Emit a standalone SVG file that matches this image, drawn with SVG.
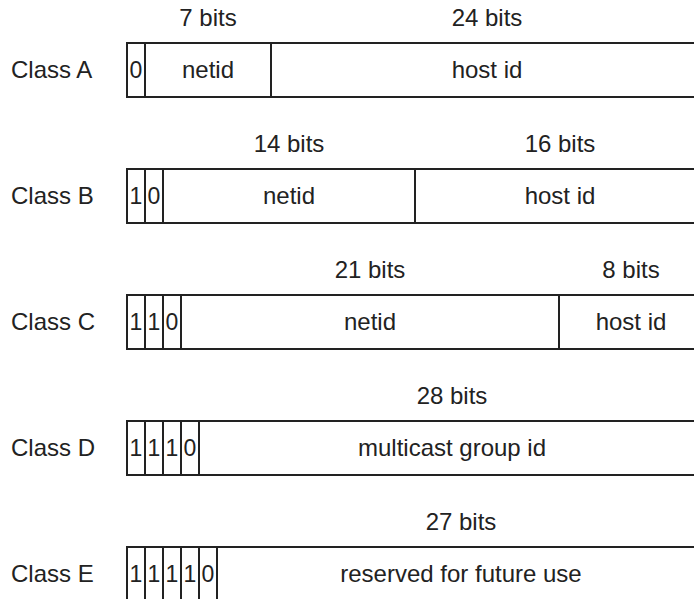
<svg xmlns="http://www.w3.org/2000/svg" width="694" height="599" viewBox="0 0 694 599">
<style>
text{font-family:"Liberation Sans",Arial,sans-serif;font-size:24px;fill:#222}
.m{text-anchor:middle}
.d{font-size:23px}
line{stroke:#222;stroke-width:2}
</style>
<rect width="694" height="599" fill="#fff"/>
<g id="classA">
<text x="11" y="78">Class A</text>
<text class="m" x="208" y="26">7 bits</text>
<text class="m" x="487" y="26">24 bits</text>
<line x1="127" y1="43" x2="694" y2="43"/>
<line x1="127" y1="97" x2="694" y2="97"/>
<line x1="127" y1="42" x2="127" y2="98"/>
<line x1="145" y1="43" x2="145" y2="97"/>
<line x1="271" y1="43" x2="271" y2="97"/>
<text class="m d" x="136" y="78">0</text>
<text class="m" x="208" y="78">netid</text>
<text class="m" x="487" y="78">host id</text>
</g>
<g id="classB">
<text x="11" y="204">Class B</text>
<text class="m" x="289" y="152">14 bits</text>
<text class="m" x="560" y="152">16 bits</text>
<line x1="127" y1="169" x2="694" y2="169"/>
<line x1="127" y1="223" x2="694" y2="223"/>
<line x1="127" y1="168" x2="127" y2="224"/>
<line x1="145" y1="169" x2="145" y2="223"/>
<line x1="163" y1="169" x2="163" y2="223"/>
<line x1="415" y1="169" x2="415" y2="223"/>
<text class="m d" x="136" y="204">1</text>
<text class="m d" x="154" y="204">0</text>
<text class="m" x="289" y="204">netid</text>
<text class="m" x="560" y="204">host id</text>
</g>
<g id="classC">
<text x="11" y="330">Class C</text>
<text class="m" x="370" y="278">21 bits</text>
<text class="m" x="631" y="278">8 bits</text>
<line x1="127" y1="295" x2="694" y2="295"/>
<line x1="127" y1="349" x2="694" y2="349"/>
<line x1="127" y1="294" x2="127" y2="350"/>
<line x1="145" y1="295" x2="145" y2="349"/>
<line x1="163" y1="295" x2="163" y2="349"/>
<line x1="181" y1="295" x2="181" y2="349"/>
<line x1="559" y1="295" x2="559" y2="349"/>
<text class="m d" x="136" y="330">1</text>
<text class="m d" x="154" y="330">1</text>
<text class="m d" x="172" y="330">0</text>
<text class="m" x="370" y="330">netid</text>
<text class="m" x="631" y="330">host id</text>
</g>
<g id="classD">
<text x="11" y="456">Class D</text>
<text class="m" x="452" y="404">28 bits</text>
<line x1="127" y1="421" x2="694" y2="421"/>
<line x1="127" y1="475" x2="694" y2="475"/>
<line x1="127" y1="420" x2="127" y2="476"/>
<line x1="145" y1="421" x2="145" y2="475"/>
<line x1="163" y1="421" x2="163" y2="475"/>
<line x1="181" y1="421" x2="181" y2="475"/>
<line x1="199" y1="421" x2="199" y2="475"/>
<text class="m d" x="136" y="456">1</text>
<text class="m d" x="154" y="456">1</text>
<text class="m d" x="172" y="456">1</text>
<text class="m d" x="190" y="456">0</text>
<text class="m" x="452" y="456">multicast group id</text>
</g>
<g id="classE">
<text x="11" y="582">Class E</text>
<text class="m" x="461" y="530">27 bits</text>
<line x1="127" y1="547" x2="694" y2="547"/>
<line x1="127" y1="546" x2="127" y2="599"/>
<line x1="145" y1="547" x2="145" y2="599"/>
<line x1="163" y1="547" x2="163" y2="599"/>
<line x1="181" y1="547" x2="181" y2="599"/>
<line x1="199" y1="547" x2="199" y2="599"/>
<line x1="217" y1="547" x2="217" y2="599"/>
<text class="m d" x="136" y="582">1</text>
<text class="m d" x="154" y="582">1</text>
<text class="m d" x="172" y="582">1</text>
<text class="m d" x="190" y="582">1</text>
<text class="m d" x="208" y="582">0</text>
<text class="m" x="461" y="582">reserved for future use</text>
</g>
<g id="connectors"/>
</svg>
